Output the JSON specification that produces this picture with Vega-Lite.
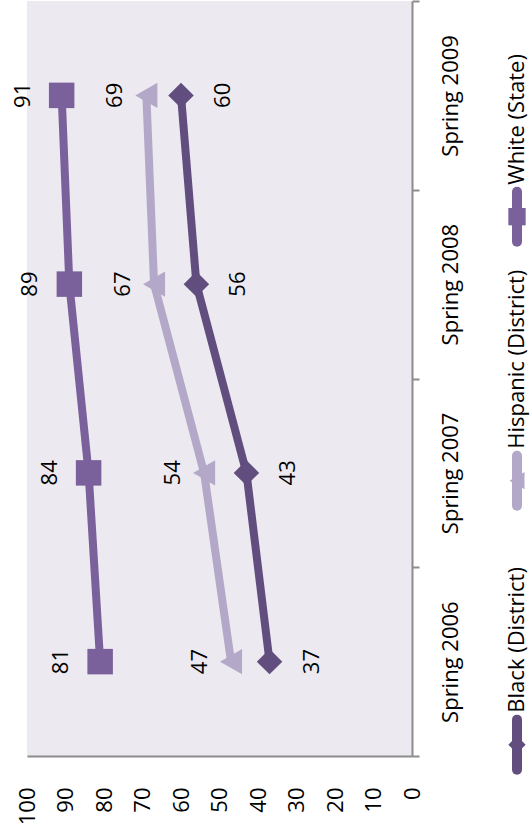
{
  "$schema": "https://vega.github.io/schema/vega-lite/v6.json",
  "padding": {"left": 11, "top": 0, "right": 0, "bottom": 0},
  "config": {"view": {"stroke": null}, "font": "Open Sans", "concat": {"spacing": 36}},
  "datasets": {
    "scores": [
      {"term": "Spring 2006", "series": "White (State)", "value": 81},
      {"term": "Spring 2007", "series": "White (State)", "value": 84},
      {"term": "Spring 2008", "series": "White (State)", "value": 89},
      {"term": "Spring 2009", "series": "White (State)", "value": 91},
      {"term": "Spring 2006", "series": "Hispanic (District)", "value": 47},
      {"term": "Spring 2007", "series": "Hispanic (District)", "value": 54},
      {"term": "Spring 2008", "series": "Hispanic (District)", "value": 67},
      {"term": "Spring 2009", "series": "Hispanic (District)", "value": 69},
      {"term": "Spring 2006", "series": "Black (District)", "value": 37},
      {"term": "Spring 2007", "series": "Black (District)", "value": 43},
      {"term": "Spring 2008", "series": "Black (District)", "value": 56},
      {"term": "Spring 2009", "series": "Black (District)", "value": 60}
    ],
    "legendItems": [
      {"series": "White (State)"},
      {"series": "Hispanic (District)"},
      {"series": "Black (District)"}
    ]
  },
  "hconcat": [
    {
      "width": 385,
      "height": 755,
      "data": {"name": "scores"},
      "view": {"fill": "#ECE9F0", "stroke": null},
      "encoding": {
        "x": {
          "field": "value", "type": "quantitative",
          "scale": {"domain": [0, 100], "reverse": true, "nice": false},
          "axis": {
            "values": [0, 10, 20, 30, 40, 50, 60, 70, 80, 90, 100],
            "title": null, "grid": false, "ticks": false, "labelPadding": 31,
            "labelAngle": -90, "labelFontSize": 22, "labelColor": "#000",
            "domainColor": "#8C8C8C", "domainWidth": 2, "labelFont": "Open Sans"
          }
        },
        "y": {
          "field": "term", "type": "nominal",
          "sort": ["Spring 2009", "Spring 2008", "Spring 2007", "Spring 2006"],
          "scale": {"type": "band", "paddingInner": 0, "paddingOuter": 0},
          "axis": {
            "orient": "right", "title": null, "tickBand": "extent",
            "tickSize": 7, "tickColor": "#8C8C8C", "tickWidth": 2,
            "domainColor": "#8C8C8C", "domainWidth": 2,
            "labelAngle": -90, "labelAlign": "center", "labelBaseline": "top",
            "labelPadding": 21, "labelFontSize": 22, "labelColor": "#000", "labelFont": "Open Sans"
          }
        },
        "color": {
          "field": "series", "type": "nominal",
          "scale": {"domain": ["White (State)", "Hispanic (District)", "Black (District)"], "range": ["#7B619B", "#B3A8C7", "#614D7E"]},
          "legend": null
        }
      },
      "layer": [
        {"mark": {"type": "line", "strokeWidth": 8}},
        {
          "mark": {"type": "point", "filled": true, "opacity": 1, "size": 650},
          "encoding": {
            "shape": {
              "field": "series", "type": "nominal",
              "scale": {"domain": ["White (State)", "Hispanic (District)", "Black (District)"], "range": ["square", "triangle-left", "diamond"]},
              "legend": null
            }
          }
        },
        {
          "transform": [{"filter": "datum.series === 'White (State)'"}],
          "mark": {"type": "text", "angle": -90, "dy": -39, "fontSize": 22, "align": "center", "baseline": "middle"},
          "encoding": {"text": {"field": "value", "type": "quantitative"}, "color": {"value": "#000"}}
        },
        {
          "transform": [{"filter": "datum.series === 'Hispanic (District)'"}],
          "mark": {"type": "text", "angle": -90, "dy": -31, "fontSize": 22, "align": "center", "baseline": "middle"},
          "encoding": {"text": {"field": "value", "type": "quantitative"}, "color": {"value": "#000"}}
        },
        {
          "transform": [{"filter": "datum.series === 'Black (District)'"}],
          "mark": {"type": "text", "angle": -90, "dy": 42, "fontSize": 22, "align": "center", "baseline": "middle"},
          "encoding": {"text": {"field": "value", "type": "quantitative"}, "color": {"value": "#000"}}
        }
      ]
    },
    {
      "width": 20,
      "height": 755,
      "data": {"name": "legendItems"},
      "encoding": {
        "y": {
          "field": "series", "type": "nominal",
          "sort": ["White (State)", "Hispanic (District)", "Black (District)"],
          "scale": {"type": "point", "padding": 0.43, "align": 0.95},
          "axis": null
        },
        "color": {
          "field": "series", "type": "nominal",
          "scale": {"domain": ["White (State)", "Hispanic (District)", "Black (District)"], "range": ["#7B619B", "#B3A8C7", "#614D7E"]},
          "legend": null
        }
      },
      "layer": [
        {"mark": {"type": "point", "shape": "M0,-2.5L0,2.5", "size": 400, "strokeWidth": 10, "strokeCap": "round", "filled": false, "opacity": 1}},
        {
          "mark": {"type": "point", "filled": true, "opacity": 1, "size": 300},
          "encoding": {
            "shape": {
              "field": "series", "type": "nominal",
              "scale": {"domain": ["White (State)", "Hispanic (District)", "Black (District)"], "range": ["square", "triangle-left", "diamond"]},
              "legend": null
            }
          }
        },
        {
          "mark": {"type": "text", "angle": -90, "align": "left", "baseline": "middle", "dx": 32, "fontSize": 22},
          "encoding": {"text": {"field": "series", "type": "nominal"}, "color": {"value": "#000"}}
        }
      ]
    }
  ]
}
